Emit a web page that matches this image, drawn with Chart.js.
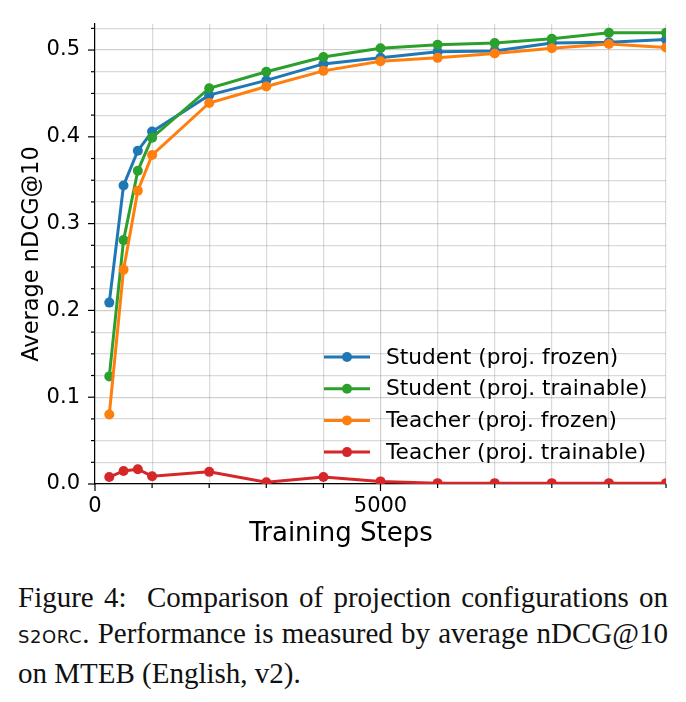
<!DOCTYPE html>
<html>
<head>
<meta charset="utf-8">
<script src="https://cdn.jsdelivr.net/npm/chart.js@4.4.1/dist/chart.umd.min.js"></script>
<style>
  html, body { margin: 0; padding: 0; background: #fff; }
  #wrap { position: relative; width: 686px; height: 702px; }
  #chartBox { position: absolute; left: 0; top: 0; width: 686px; height: 560px; }
  .caption { position: absolute; left: 18px; width: 650px; top: 579px;
    font-family: "Liberation Serif", "Times New Roman", serif; font-size: 29px;
    line-height: 36px; color: #111; }
  .caption div { text-align: justify; text-align-last: justify; white-space: nowrap; }
  .caption div.last { text-align-last: left; }
  .sc { font-family: "DejaVu Sans", sans-serif; font-size: 18px; letter-spacing: 0.6px; }
</style>
</head>
<body>
<div id="wrap">
  <div id="chartBox"><canvas id="chart" width="686" height="560"></canvas></div>
  <div class="caption">
    <div>Figure 4:&nbsp; Comparison of projection configurations on</div>
    <div><span class="sc">S2ORC</span>. Performance is measured by average nDCG@10</div>
    <div class="last">on MTEB (English, v2).</div>
  </div>
</div>
<script>
const steps = [250, 500, 750, 1000, 2000, 3000, 4000, 5000, 6000, 7000, 8000, 9000, 10000];
const studentFrozen = [0.209, 0.344, 0.384, 0.406, 0.448, 0.465, 0.484, 0.491, 0.498, 0.499, 0.508, 0.509, 0.512];
const studentTrainable = [0.124, 0.281, 0.361, 0.399, 0.456, 0.475, 0.492, 0.502, 0.506, 0.508, 0.513, 0.520, 0.520];
const teacherFrozen = [0.080, 0.247, 0.338, 0.379, 0.439, 0.458, 0.476, 0.487, 0.491, 0.496, 0.502, 0.507, 0.503];
const teacherTrainable = [0.008, 0.015, 0.017, 0.009, 0.014, 0.002, 0.008, 0.003, 0.001, 0.001, 0.001, 0.001, 0.001];

const seriesNames = ['Student (proj. frozen)', 'Student (proj. trainable)', 'Teacher (proj. frozen)', 'Teacher (proj. trainable)'];
const seriesColors = ['#1f77b4', '#2ca02c', '#ff7f0e', '#d62728'];
const seriesData = [studentFrozen, studentTrainable, teacherFrozen, teacherTrainable];
const xTickLabels = [0, 5000];
const yTickLabels = [0, 0.1, 0.2, 0.3, 0.4, 0.5];

const FONT = '"DejaVu Sans", sans-serif';

const datasets = seriesData.map((vals, i) => ({
  label: seriesNames[i],
  data: steps.map((s, j) => ({ x: s, y: vals[j] })),
  borderColor: seriesColors[i],
  backgroundColor: seriesColors[i],
  pointBackgroundColor: seriesColors[i],
  pointBorderColor: seriesColors[i],
  pointBorderWidth: 0,
  pointRadius: 5,
  borderWidth: 3,
  tension: 0,
  clip: 0,
  order: 4 - i   // later series on top, like matplotlib
}));

const isMajorY = v => Math.abs(v * 10 - Math.round(v * 10)) < 1e-6;

// tick marks (long for labelled ticks, short for the minor ones) + x axis title
const tickMarks = {
  id: 'tickMarks',
  afterDraw(chart) {
    const { ctx, chartArea, scales } = chart;
    ctx.save();
    ctx.strokeStyle = '#000';
    ctx.lineWidth = 1.2;
    scales.y.ticks.forEach(t => {
      const py = scales.y.getPixelForValue(t.value);
      const len = isMajorY(t.value) ? 7 : 4;
      ctx.beginPath();
      ctx.moveTo(chartArea.left - len, py);
      ctx.lineTo(chartArea.left, py);
      ctx.stroke();
    });
    scales.x.ticks.forEach(t => {
      const px = scales.x.getPixelForValue(t.value);
      const len = xTickLabels.includes(t.value) ? 7 : 4;
      ctx.beginPath();
      ctx.moveTo(px, chartArea.bottom);
      ctx.lineTo(px, chartArea.bottom + len);
      ctx.stroke();
    });
    // x title sits a bit left of the axis centre in the original
    ctx.fillStyle = '#000';
    ctx.font = '26px ' + FONT;
    ctx.textAlign = 'center';
    ctx.textBaseline = 'middle';
    ctx.fillText('Training Steps', 341, chartArea.bottom + 50);
    ctx.restore();
  }
};

// legend inside the plot, lower right, no frame
const insideLegend = {
  id: 'insideLegend',
  afterDraw(chart) {
    const { ctx, chartArea } = chart;
    ctx.save();
    ctx.font = '21.7px ' + FONT;
    ctx.textBaseline = 'middle';
    ctx.textAlign = 'left';
    const x0 = chartArea.left + 229;
    const y0 = chartArea.top + 333;
    seriesNames.forEach((name, i) => {
      const y = y0 + i * 31.7;
      ctx.strokeStyle = seriesColors[i];
      ctx.lineWidth = 3;
      ctx.beginPath();
      ctx.moveTo(x0, y);
      ctx.lineTo(x0 + 46, y);
      ctx.stroke();
      ctx.fillStyle = seriesColors[i];
      ctx.beginPath();
      ctx.arc(x0 + 23, y, 5, 0, Math.PI * 2);
      ctx.fill();
      ctx.fillStyle = '#000';
      ctx.fillText(name, x0 + 62, y + 1);
    });
    ctx.restore();
  }
};

new Chart(document.getElementById('chart'), {
  type: 'line',
  data: { datasets },
  options: {
    responsive: false,
    animation: false,
    layout: { autoPadding: false, padding: { top: 24, right: 20, left: 0, bottom: 0 } },
    plugins: { legend: { display: false }, tooltip: { enabled: false } },
    scales: {
      x: {
        type: 'linear',
        min: 0,
        max: 10000,
        afterFit: s => { s.height = 76; s.paddingLeft = 0; s.paddingRight = 0; },
        border: { display: true, color: '#000', width: 1.2 },
        grid: {
          drawTicks: false,
          color: ctx => xTickLabels.includes(ctx.tick.value) ? 'rgba(150,150,150,0.45)' : 'rgba(150,150,150,0.35)',
          lineWidth: 1.2
        },
        ticks: {
          stepSize: 1000,
          autoSkip: false,
          maxRotation: 0,
          includeBounds: false,
          padding: 10,
          color: '#000',
          font: { family: FONT, size: 21 },
          callback: v => xTickLabels.includes(v) ? String(v) : ''
        },
        title: { display: false }
      },
      y: {
        min: 0,
        max: 0.53,
        afterFit: s => { s.width = 95; s.paddingTop = 0; s.paddingBottom = 0; },
        border: { display: true, color: '#000', width: 1.2 },
        grid: {
          drawTicks: false,
          color: ctx => isMajorY(ctx.tick.value) ? 'rgba(150,150,150,0.45)' : 'rgba(150,150,150,0.35)',
          lineWidth: 1.2
        },
        ticks: {
          stepSize: 0.025,
          autoSkip: false,
          includeBounds: false,
          padding: 15,
          color: '#000',
          font: { family: FONT, size: 21 },
          callback: v => yTickLabels.some(t => Math.abs(t - v) < 1e-6) ? v.toFixed(1) : ''
        },
        title: {
          display: true,
          text: 'Average nDCG@10',
          color: '#000',
          font: { family: FONT, size: 22.5 },
          padding: { top: 19, bottom: 0 }
        }
      }
    }
  },
  plugins: [tickMarks, insideLegend]
});
</script>
</body>
</html>
